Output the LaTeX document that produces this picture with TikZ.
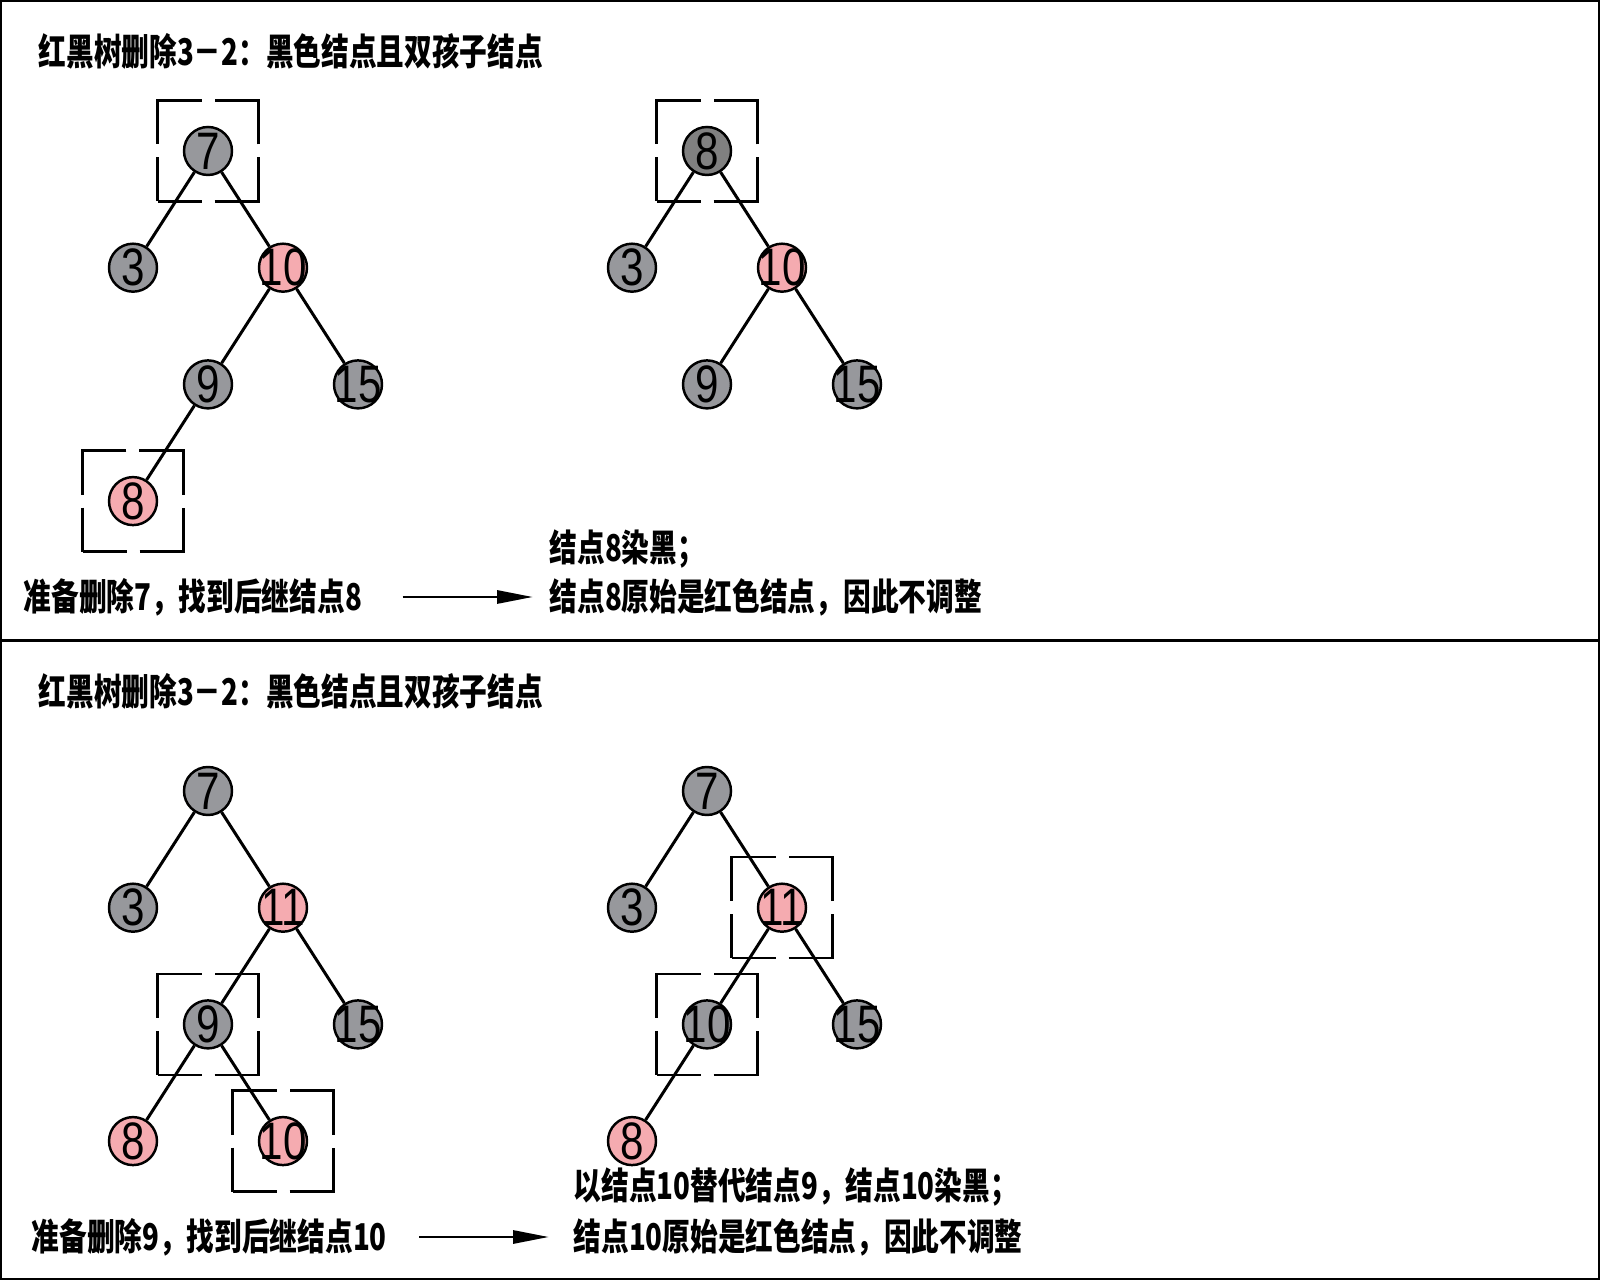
\documentclass[tikz,border=0pt]{standalone}
\usepackage{fontspec}
\usepackage{xcolor}
\usepackage{tikz}
\usetikzlibrary{arrows.meta, positioning}
\newfontfamily\cjkfont[FakeStretch=0.75]{Noto Sans CJK SC}
\newfontfamily\numfont[FakeStretch=0.8]{Liberation Sans}
\definecolor{blackNodeColor}{HTML}{97989C}
\definecolor{newBlackColor}{HTML}{808080}
\definecolor{redNodeColor}{HTML}{F5ABB0}

\begin{document}
\begin{tikzpicture}[
    on grid,
    node distance=1.167cm and 0.75cm,
    base/.style={circle, draw, line width=0.7pt, minimum size=0.48cm, inner sep=-0.08cm, font=\numfont\fontsize{15}{15}\selectfont},
    blk/.style={base, fill=blackNodeColor},
    newblk/.style={base, fill=newBlackColor},
    rednode/.style={base, fill=redNodeColor},
    link/.style={line width=0.85pt},
    pickbox/.style={draw, rectangle, minimum size=1.01cm, line width=0.7pt, dash pattern=on 0.88cm off 0.13cm, dash phase=0.44cm},
    titleStyle/.style={font=\cjkfont\bfseries\fontsize{10.5}{12}\selectfont, anchor=west, inner sep=0pt},
    flow/.style={-{Triangle[length=0.36cm, width=0.13cm]}, line width=0.85pt}
]

\useasboundingbox (0,0) rectangle (16,-12.8);
\draw[line width=0.7pt] (0.012,-0.012) rectangle (15.988,-12.788);
\draw[line width=0.7pt] (0,-6.405) -- (16,-6.405);

\node[titleStyle] (title1) at (0.38,-0.51) {红黑树删除3－2：黑色结点且双孩子结点};

\node[blk] (a7) at (2.08,-1.51) {7};
\node[blk, below left=of a7] (a3) {3};
\node[rednode, below right=of a7] (a10) {10};
\node[blk, below left=of a10] (a9) {9};
\node[blk, below right=of a10] (a15) {15};
\node[rednode, below left=of a9] (a8) {8};
\node[pickbox] (boxa7) at (a7) {};
\node[pickbox] (boxa8) at (a8) {};

\draw[link] (a7) -- (a3);
\draw[link] (a7) -- (a10);
\draw[link] (a10) -- (a9);
\draw[link] (a10) -- (a15);
\draw[link] (a9) -- (a8);

\node[newblk] (b8) at (7.07,-1.51) {8};
\node[blk, below left=of b8] (b3) {3};
\node[rednode, below right=of b8] (b10) {10};
\node[blk, below left=of b10] (b9) {9};
\node[blk, below right=of b10] (b15) {15};
\node[pickbox] (boxb8) at (b8) {};

\draw[link] (b8) -- (b3);
\draw[link] (b8) -- (b10);
\draw[link] (b10) -- (b9);
\draw[link] (b10) -- (b15);

\node[titleStyle] (step1) at (0.23,-5.97) {准备删除7，找到后继结点8};
\node[titleStyle] (note1a) at (5.49,-5.49) {结点8染黑；};
\node[titleStyle] (note1b) at (5.49,-5.97) {结点8原始是红色结点，因此不调整};
\draw[flow, shorten <=0.4cm, shorten >=0.16cm] (step1.east) -- (note1b.west);

\node[titleStyle] (title2) at (0.38,-6.91) {红黑树删除3－2：黑色结点且双孩子结点};

\node[blk] (c7) at (2.08,-7.91) {7};
\node[blk, below left=of c7] (c3) {3};
\node[rednode, below right=of c7] (c11) {11};
\node[blk, below left=of c11] (c9) {9};
\node[blk, below right=of c11] (c15) {15};
\node[rednode, below left=of c9] (c8) {8};
\node[rednode, below right=of c9] (c10) {10};
\node[pickbox] (boxc9) at (c9) {};
\node[pickbox] (boxc10) at (c10) {};

\draw[link] (c7) -- (c3);
\draw[link] (c7) -- (c11);
\draw[link] (c11) -- (c9);
\draw[link] (c11) -- (c15);
\draw[link] (c9) -- (c8);
\draw[link] (c9) -- (c10);

\node[blk] (d7) at (7.07,-7.91) {7};
\node[blk, below left=of d7] (d3) {3};
\node[rednode, below right=of d7] (d11) {11};
\node[blk, below left=of d11] (d10) {10};
\node[blk, below right=of d11] (d15) {15};
\node[rednode, below left=of d10] (d8) {8};
\node[pickbox] (boxd11) at (d11) {};
\node[pickbox] (boxd10) at (d10) {};

\draw[link] (d7) -- (d3);
\draw[link] (d7) -- (d11);
\draw[link] (d11) -- (d10);
\draw[link] (d11) -- (d15);
\draw[link] (d10) -- (d8);

\node[titleStyle] (step2) at (0.31,-12.37) {准备删除9，找到后继结点10};
\node[titleStyle] (note2a) at (5.73,-11.87) {以结点10替代结点9，结点10染黑；};
\node[titleStyle] (note2b) at (5.73,-12.37) {结点10原始是红色结点，因此不调整};
\draw[flow, shorten <=0.32cm, shorten >=0.24cm] (step2.east) -- (note2b.west);

\end{tikzpicture}
\end{document}
